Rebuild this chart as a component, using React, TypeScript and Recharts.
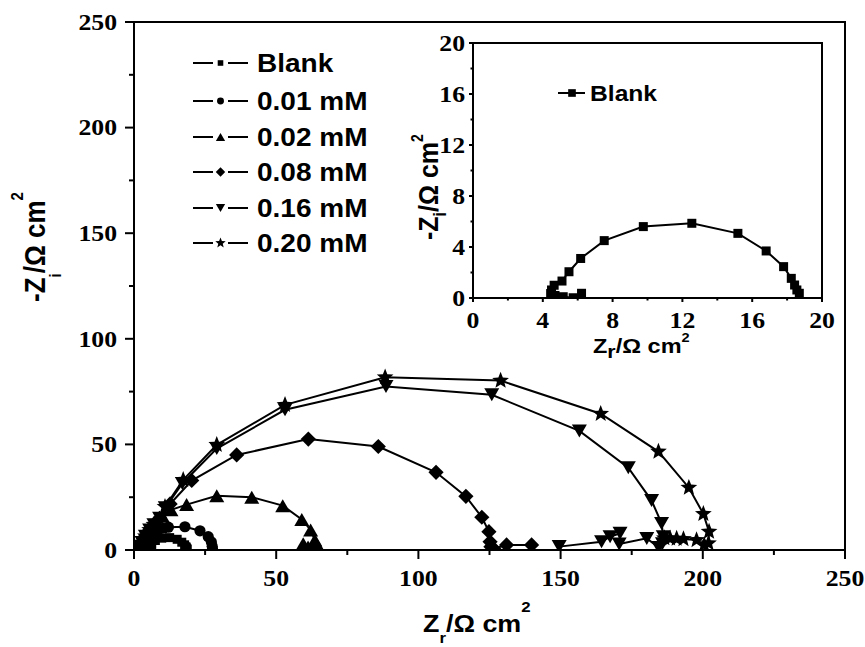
import React from 'react';
import { ScatterChart, Scatter, XAxis, YAxis, Legend, ReferenceArea } from 'recharts';

const SX = 1.12;
const SERIF = '"Liberation Serif", "Times New Roman", serif';
const SANS = '"Liberation Sans", Arial, sans-serif';

// ---- data ----
const blankX = [6.22, 5.74, 5.17, 4.7, 4.45, 4.5, 4.65, 5.1, 5.5, 6.17, 7.52, 9.76, 12.54, 15.18, 16.8, 17.8, 18.24, 18.43, 18.56, 18.7];
const blankY = [0.37, 0.02, 0.1, 0.2, 0.35, 0.63, 1.0, 1.33, 2.06, 3.1, 4.5, 5.6, 5.86, 5.07, 3.69, 2.46, 1.54, 1.02, 0.63, 0.37];

const c001X = [2.5, 3, 3.8, 5, 6.5, 8.5, 10.3, 12.1, 17.9, 23.2, 26.1, 27.2, 27.5, 27.6];
const c001Y = [0.3, 1.5, 3.5, 5.5, 7.5, 9.3, 10.3, 10.8, 11, 9.1, 6.3, 3.8, 1.8, 0.5];

const c002X = [1.8, 2.3, 3, 4, 5.5, 7.5, 10, 13, 18.5, 29.1, 41.4, 52.3, 59, 62.1, 63.6, 64.5, 65, 63, 61.2, 59.5];
const c002Y = [0.3, 1.5, 3.5, 6, 9, 12.5, 16, 19, 21.5, 25.7, 25, 21, 14.5, 9.5, 4.7, 2.2, 0.8, 0.5, 1.4, 3];

const c008X = [1.5, 2, 2.8, 4, 5.5, 7, 9, 12.7, 20.3, 36.1, 61.3, 85.9, 106.2, 116.7, 122.3, 124.8, 125.2, 125.5, 126.5, 131, 139.8];
const c008Y = [0.3, 1.5, 3.5, 6.5, 9.5, 12, 15, 21.8, 32.9, 45, 52.5, 49, 36.8, 25.4, 15.5, 8.7, 3.9, 1.5, 0.6, 2.4, 2.4];

const c016X = [1.5, 2, 2.8, 4, 5.5, 7, 9, 11, 17, 29.1, 53.1, 88.6, 125.8, 156.6, 173.8, 182, 185.5, 186.1, 185.8, 184.5, 180.3, 170.6, 170.9, 167.4, 164.4, 149.5];
const c016Y = [0.3, 1.5, 3.5, 6.5, 9.5, 12, 15, 20, 31.5, 48, 66.4, 77.4, 73.5, 56.4, 39, 23.4, 12.6, 6.3, 3, 1.2, 5.5, 2.8, 7.9, 6.3, 3.9, 1.6];

const c020X = [1.5, 2, 2.8, 4, 5.5, 7, 8, 10.9, 17.3, 29.1, 53.1, 88.3, 128.9, 164.1, 184.4, 195.1, 200.2, 202.2, 202, 200.5, 197.8, 193.2, 190.8, 188.5, 186.5];
const c020Y = [0.3, 1.5, 3.5, 6.5, 9.5, 12, 13.4, 20.5, 33.2, 49.8, 68.7, 81.8, 80.2, 64.5, 46.6, 29.5, 17.1, 8.7, 3.2, 2.5, 4.7, 5.2, 5.4, 5.5, 5.6];

const seriesNames = ['Blank', '0.01 mM', '0.02 mM', '0.08 mM', '0.16 mM', '0.20 mM'];
const seriesKinds = ['square', 'circle', 'triangle', 'diamond', 'down', 'star'];

const mainTicks = [0, 25, 50, 75, 100, 125, 150, 175, 200, 225, 250];
const mainMajorTicks = [0, 50, 100, 150, 200, 250];
const insetTicks = [0, 2, 4, 6, 8, 10, 12, 14, 16, 18, 20];
const insetMajorTicks = [0, 4, 8, 12, 16, 20];

const toPts = (xs: number[], ys: number[]) => xs.map((x, i) => ({ x, y: ys[i] }));

const mainSeries = [
  toPts(blankX, blankY),
  toPts(c001X, c001Y),
  toPts(c002X, c002Y),
  toPts(c008X, c008Y),
  toPts(c016X, c016Y),
  toPts(c020X, c020Y),
];
const insetData = toPts(blankX, blankY);

// ---- markers ----
function starPoints(cx: number, cy: number, R: number, r: number) {
  const pts: string[] = [];
  for (let i = 0; i < 10; i++) {
    const a = -Math.PI / 2 + (i * Math.PI) / 5;
    const rad = i % 2 === 0 ? R : r;
    pts.push(`${cx + rad * Math.cos(a)},${cy + rad * Math.sin(a)}`);
  }
  return pts.join(' ');
}

function Marker({ kind, cx, cy, s = 1 }: { kind: string; cx: number; cy: number; s?: number }) {
  if (cx == null || cy == null) return null;
  switch (kind) {
    case 'square': {
      const h = 4.5 * s;
      return <rect x={cx - h} y={cy - h} width={2 * h} height={2 * h} fill="#000" />;
    }
    case 'circle':
      return <circle cx={cx} cy={cy} r={5.6 * s} fill="#000" />;
    case 'triangle': {
      const w = 7.5 * s, h = 6.5 * s;
      return <polygon points={`${cx},${cy - h} ${cx + w},${cy + h} ${cx - w},${cy + h}`} fill="#000" />;
    }
    case 'down': {
      const w = 7.5 * s, h = 6.5 * s;
      return <polygon points={`${cx},${cy + h} ${cx + w},${cy - h} ${cx - w},${cy - h}`} fill="#000" />;
    }
    case 'diamond': {
      const w = 7.6 * s, h = 7.6 * s;
      return <polygon points={`${cx},${cy - h} ${cx + w},${cy} ${cx},${cy + h} ${cx - w},${cy}`} fill="#000" />;
    }
    case 'star':
      return <polygon points={starPoints(cx, cy, 8.8 * s, 3.8 * s)} fill="#000" />;
    default:
      return null;
  }
}

// ---- ticks ----
function makeTick(orient: string, majors: number[], majLen: number, minLen: number, labelOff: number, fontSize: number) {
  return (props: any) => {
    const { x, y, payload } = props;
    const v = payload.value;
    const major = majors.includes(v);
    const len = major ? majLen : minLen;
    if (orient === 'bottom') {
      return (
        <g>
          <line x1={x} y1={y} x2={x} y2={y + len} stroke="#000" strokeWidth={2} />
          {major && (
            <text transform={`translate(${x},${y + labelOff}) scale(${SX},1)`} textAnchor="middle" fontFamily={SERIF} fontWeight="bold" fontSize={fontSize} fill="#000">{v}</text>
          )}
        </g>
      );
    }
    return (
      <g>
        <line x1={x} y1={y} x2={x - len} y2={y} stroke="#000" strokeWidth={2} />
        {major && (
          <text transform={`translate(${x - labelOff},${y + fontSize * 0.34}) scale(${SX},1)`} textAnchor="end" fontFamily={SERIF} fontWeight="bold" fontSize={fontSize} fill="#000">{v}</text>
        )}
      </g>
    );
  };
}

const mainXTick = makeTick('bottom', mainMajorTicks, 9, 5, 36, 23);
const mainYTick = makeTick('left', mainMajorTicks, 9, 5, 17, 23);
const insetXTick = makeTick('bottom', insetMajorTicks, 4, 2.5, 30, 23);
const insetYTick = makeTick('left', insetMajorTicks, 4, 2.5, 8, 23);

// ---- axis labels ----
const MainXLabel = () => (
  <text transform={`translate(423,632) scale(${SX},1)`} fontFamily={SANS} fontWeight="bold" fontSize={24} fill="#000">
    Z<tspan fontSize={15} dy={11}>r</tspan>
    <tspan dy={-11}>/Ω cm</tspan>
    <tspan fontSize={15} dy={-20}>2</tspan>
  </text>
);

const MainYLabel = () => (
  <text transform={`translate(45,302) scale(${SX},1) rotate(-90)`} fontFamily={SANS} fontWeight="bold" fontSize={26} fill="#000">
    -Z<tspan fontSize={15} dy={14}>i</tspan>
    <tspan dy={-14}>/Ω cm</tspan>
    <tspan fontSize={15} dy={-20}>2</tspan>
  </text>
);

// inset chart origin on page is (400,0)
const InsetXLabel = () => (
  <text transform={`translate(193,353) scale(${SX},1)`} fontFamily={SANS} fontWeight="bold" fontSize={21} fill="#000">
    Z<tspan fontSize={19} dy={5}>r</tspan>
    <tspan dy={-5}>/Ω cm</tspan>
    <tspan fontSize={13} dy={-11}>2</tspan>
  </text>
);

const InsetYLabel = () => (
  <text transform={`translate(38,240) scale(${SX},1) rotate(-90)`} fontFamily={SANS} fontWeight="bold" fontSize={25} fill="#000">
    -Z<tspan fontSize={16} dy={7}>i</tspan>
    <tspan dy={-7}>/Ω cm</tspan>
    <tspan fontSize={14} dy={-13}>2</tspan>
  </text>
);

// ---- legends ----
const legendRows = [63, 101, 137, 172, 208, 243];
const MainLegend = () => (
  <svg width={260} height={240} style={{ overflow: 'visible', display: 'block' }}>
    {seriesNames.map((name, i) => {
      const y = legendRows[i] - 40;
      return (
        <g key={name}>
          <line x1={8} y1={y} x2={28} y2={y} stroke="#000" strokeWidth={2} />
          <line x1={43} y1={y} x2={63} y2={y} stroke="#000" strokeWidth={2} />
          <Marker kind={seriesKinds[i]} cx={35.5} cy={y} s={0.62} />
          <text transform={`translate(72,${y + 9}) scale(${SX},1)`} fontFamily={SANS} fontWeight="bold" fontSize={25} fill="#000">{name}</text>
        </g>
      );
    })}
  </svg>
);

const InsetLegend = () => (
  <svg width={140} height={40} style={{ overflow: 'visible', display: 'block' }}>
    <line x1={8} y1={18} x2={35} y2={18} stroke="#000" strokeWidth={2} />
    <Marker kind="square" cx={22} cy={18} s={0.85} />
    <text transform={`translate(40,${18 + 8}) scale(${SX},1)`} fontFamily={SANS} fontWeight="bold" fontSize={22} fill="#000">{seriesNames[0]}</text>
  </svg>
);

const axisLine = { stroke: '#000', strokeWidth: 2 };

export default function App() {
  return (
    <div style={{ position: 'absolute', left: 0, top: 0, width: 865, height: 647, background: '#fff', overflow: 'hidden' }}>
      <div style={{ position: 'absolute', left: 0, top: 0 }}>
        <ScatterChart width={865} height={647} margin={{ top: 22, right: 20, bottom: 57, left: 74 }}>
          <XAxis type="number" dataKey="x" domain={[0, 250]} ticks={mainTicks} interval={0} tickSize={0} tickMargin={0} height={40}
            axisLine={axisLine} tickLine={false} tick={mainXTick} label={<MainXLabel />} allowDataOverflow />
          <YAxis type="number" dataKey="y" domain={[0, 250]} ticks={mainTicks} interval={0} tickSize={0} tickMargin={0} width={60}
            axisLine={axisLine} tickLine={false} tick={mainYTick} label={<MainYLabel />} allowDataOverflow />
          <ReferenceArea x1={0} x2={250} y1={0} y2={250} fill="none" stroke="#000" strokeWidth={2} ifOverflow="visible" />
          <Legend layout="vertical" align="center" verticalAlign="middle"
            wrapperStyle={{ position: 'absolute', left: 185, top: 40, width: 260, height: 240 }}
            content={() => <MainLegend />} />
          {mainSeries.map((d, i) => (
            <Scatter key={seriesNames[i]} name={seriesNames[i]} data={d} fill="#000"
              line={{ stroke: '#000', strokeWidth: 2 }} lineType="joint" isAnimationActive={false}
              shape={(p: any) => <Marker kind={seriesKinds[i]} cx={p.cx} cy={p.cy} />} />
          ))}
        </ScatterChart>
      </div>
      <div style={{ position: 'absolute', left: 400, top: 0 }}>
        <ScatterChart width={465} height={380} margin={{ top: 43, right: 43, bottom: 42, left: 23 }}>
          <XAxis type="number" dataKey="x" domain={[0, 20]} ticks={insetTicks} interval={0} tickSize={0} tickMargin={0} height={40}
            axisLine={axisLine} tickLine={false} tick={insetXTick} label={<InsetXLabel />} allowDataOverflow />
          <YAxis type="number" dataKey="y" domain={[0, 20]} ticks={insetTicks} interval={0} tickSize={0} tickMargin={0} width={50}
            axisLine={axisLine} tickLine={false} tick={insetYTick} label={<InsetYLabel />} allowDataOverflow />
          <ReferenceArea x1={0} x2={20} y1={0} y2={20} fill="none" stroke="#000" strokeWidth={2} ifOverflow="visible" />
          <Legend layout="vertical" align="center" verticalAlign="middle"
            wrapperStyle={{ position: 'absolute', left: 150, top: 75, width: 140, height: 40 }}
            content={() => <InsetLegend />} />
          <Scatter name={seriesNames[0]} data={insetData} fill="#000"
            line={{ stroke: '#000', strokeWidth: 2 }} lineType="joint" isAnimationActive={false}
            shape={(p: any) => <Marker kind="square" cx={p.cx} cy={p.cy} s={1.0} />} />
        </ScatterChart>
      </div>
    </div>
  );
}
